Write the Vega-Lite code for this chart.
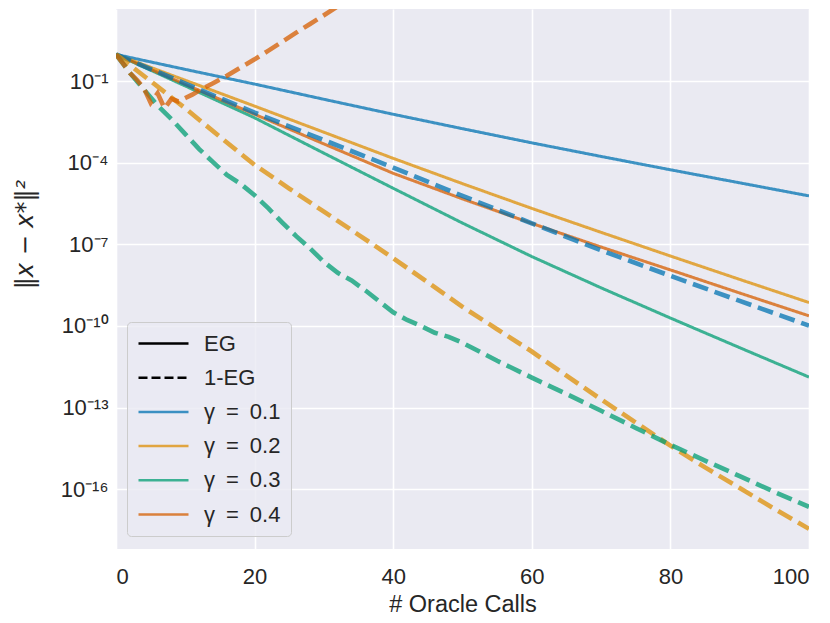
{
  "$schema": "https://vega.github.io/schema/vega-lite/v6.json",
  "autosize": {"type": "none"},
  "width": 693,
  "height": 540,
  "padding": {"left": 116, "top": 9, "right": 21, "bottom": 74},
  "background": "white",
  "data": {
    "values": [
      {"m": "EG", "g": "γ = 0.1", "x": 0, "y": 0.955},
      {"m": "EG", "g": "γ = 0.1", "x": 10, "y": 0.269},
      {"m": "EG", "g": "γ = 0.1", "x": 20, "y": 0.0776},
      {"m": "EG", "g": "γ = 0.1", "x": 30, "y": 0.0214},
      {"m": "EG", "g": "γ = 0.1", "x": 40, "y": 6.03e-3},
      {"m": "EG", "g": "γ = 0.1", "x": 50, "y": 1.778e-3},
      {"m": "EG", "g": "γ = 0.1", "x": 60, "y": 5.37e-4},
      {"m": "EG", "g": "γ = 0.1", "x": 70, "y": 1.698e-4},
      {"m": "EG", "g": "γ = 0.1", "x": 80, "y": 5.495e-5},
      {"m": "EG", "g": "γ = 0.1", "x": 90, "y": 1.82e-5},
      {"m": "EG", "g": "γ = 0.1", "x": 100, "y": 6.026e-6},

      {"m": "EG", "g": "γ = 0.2", "x": 0, "y": 0.955},
      {"m": "EG", "g": "γ = 0.2", "x": 10, "y": 0.1072},
      {"m": "EG", "g": "γ = 0.2", "x": 20, "y": 0.01202},
      {"m": "EG", "g": "γ = 0.2", "x": 30, "y": 1.318e-3},
      {"m": "EG", "g": "γ = 0.2", "x": 40, "y": 1.445e-4},
      {"m": "EG", "g": "γ = 0.2", "x": 50, "y": 1.698e-5},
      {"m": "EG", "g": "γ = 0.2", "x": 60, "y": 2.089e-6},
      {"m": "EG", "g": "γ = 0.2", "x": 70, "y": 2.754e-7},
      {"m": "EG", "g": "γ = 0.2", "x": 80, "y": 3.715e-8},
      {"m": "EG", "g": "γ = 0.2", "x": 90, "y": 5.129e-9},
      {"m": "EG", "g": "γ = 0.2", "x": 100, "y": 7.244e-10},

      {"m": "EG", "g": "γ = 0.3", "x": 0, "y": 0.955},
      {"m": "EG", "g": "γ = 0.3", "x": 10, "y": 0.06607},
      {"m": "EG", "g": "γ = 0.3", "x": 20, "y": 4.467e-3},
      {"m": "EG", "g": "γ = 0.3", "x": 30, "y": 2.239e-4},
      {"m": "EG", "g": "γ = 0.3", "x": 40, "y": 1.148e-5},
      {"m": "EG", "g": "γ = 0.3", "x": 50, "y": 6.026e-7},
      {"m": "EG", "g": "γ = 0.3", "x": 60, "y": 3.548e-8},
      {"m": "EG", "g": "γ = 0.3", "x": 70, "y": 2.512e-9},
      {"m": "EG", "g": "γ = 0.3", "x": 80, "y": 1.95e-10},
      {"m": "EG", "g": "γ = 0.3", "x": 90, "y": 1.585e-11},
      {"m": "EG", "g": "γ = 0.3", "x": 100, "y": 1.318e-12},

      {"m": "EG", "g": "γ = 0.4", "x": 0, "y": 0.955},
      {"m": "EG", "g": "γ = 0.4", "x": 10, "y": 0.07586},
      {"m": "EG", "g": "γ = 0.4", "x": 20, "y": 6.026e-3},
      {"m": "EG", "g": "γ = 0.4", "x": 30, "y": 4.898e-4},
      {"m": "EG", "g": "γ = 0.4", "x": 40, "y": 4.074e-5},
      {"m": "EG", "g": "γ = 0.4", "x": 50, "y": 4.677e-6},
      {"m": "EG", "g": "γ = 0.4", "x": 60, "y": 5.888e-7},
      {"m": "EG", "g": "γ = 0.4", "x": 70, "y": 7.943e-8},
      {"m": "EG", "g": "γ = 0.4", "x": 80, "y": 1.148e-8},
      {"m": "EG", "g": "γ = 0.4", "x": 90, "y": 1.622e-9},
      {"m": "EG", "g": "γ = 0.4", "x": 100, "y": 2.344e-10},

      {"m": "1-EG", "g": "γ = 0.1", "x": 0, "y": 0.955},
      {"m": "1-EG", "g": "γ = 0.1", "x": 10, "y": 0.08128},
      {"m": "1-EG", "g": "γ = 0.1", "x": 20, "y": 6.918e-3},
      {"m": "1-EG", "g": "γ = 0.1", "x": 30, "y": 6.761e-4},
      {"m": "1-EG", "g": "γ = 0.1", "x": 40, "y": 6.607e-5},
      {"m": "1-EG", "g": "γ = 0.1", "x": 50, "y": 6.026e-6},
      {"m": "1-EG", "g": "γ = 0.1", "x": 60, "y": 5.888e-7},
      {"m": "1-EG", "g": "γ = 0.1", "x": 70, "y": 6.026e-8},
      {"m": "1-EG", "g": "γ = 0.1", "x": 80, "y": 6.918e-9},
      {"m": "1-EG", "g": "γ = 0.1", "x": 90, "y": 8.318e-10},
      {"m": "1-EG", "g": "γ = 0.1", "x": 100, "y": 1.023e-10},

      {"m": "1-EG", "g": "γ = 0.2", "x": 0, "y": 0.955},
      {"m": "1-EG", "g": "γ = 0.2", "x": 5, "y": 0.1},
      {"m": "1-EG", "g": "γ = 0.2", "x": 10, "y": 0.01},
      {"m": "1-EG", "g": "γ = 0.2", "x": 15, "y": 8.913e-4},
      {"m": "1-EG", "g": "γ = 0.2", "x": 20, "y": 8.318e-5},
      {"m": "1-EG", "g": "γ = 0.2", "x": 25, "y": 1.122e-5},
      {"m": "1-EG", "g": "γ = 0.2", "x": 30, "y": 1.585e-6},
      {"m": "1-EG", "g": "γ = 0.2", "x": 35, "y": 2.239e-7},
      {"m": "1-EG", "g": "γ = 0.2", "x": 40, "y": 3.09e-8},
      {"m": "1-EG", "g": "γ = 0.2", "x": 45, "y": 3.981e-9},
      {"m": "1-EG", "g": "γ = 0.2", "x": 50, "y": 5.012e-10},
      {"m": "1-EG", "g": "γ = 0.2", "x": 55, "y": 7.586e-11},
      {"m": "1-EG", "g": "γ = 0.2", "x": 60, "y": 1.148e-11},
      {"m": "1-EG", "g": "γ = 0.2", "x": 65, "y": 1.479e-12},
      {"m": "1-EG", "g": "γ = 0.2", "x": 70, "y": 1.995e-13},
      {"m": "1-EG", "g": "γ = 0.2", "x": 75, "y": 2.818e-14},
      {"m": "1-EG", "g": "γ = 0.2", "x": 80, "y": 3.981e-15},
      {"m": "1-EG", "g": "γ = 0.2", "x": 85, "y": 6.31e-16},
      {"m": "1-EG", "g": "γ = 0.2", "x": 90, "y": 1.096e-16},
      {"m": "1-EG", "g": "γ = 0.2", "x": 95, "y": 1.905e-17},
      {"m": "1-EG", "g": "γ = 0.2", "x": 100, "y": 3.467e-18},

      {"m": "1-EG", "g": "γ = 0.3", "x": 0, "y": 0.955},
      {"m": "1-EG", "g": "γ = 0.3", "x": 2, "y": 0.1995},
      {"m": "1-EG", "g": "γ = 0.3", "x": 4, "y": 0.05012},
      {"m": "1-EG", "g": "γ = 0.3", "x": 6, "y": 0.01259},
      {"m": "1-EG", "g": "γ = 0.3", "x": 8, "y": 3.981e-3},
      {"m": "1-EG", "g": "γ = 0.3", "x": 10, "y": 1.122e-3},
      {"m": "1-EG", "g": "γ = 0.3", "x": 12, "y": 3.162e-4},
      {"m": "1-EG", "g": "γ = 0.3", "x": 14, "y": 1.047e-4},
      {"m": "1-EG", "g": "γ = 0.3", "x": 16, "y": 3.548e-5},
      {"m": "1-EG", "g": "γ = 0.3", "x": 18, "y": 1.66e-5},
      {"m": "1-EG", "g": "γ = 0.3", "x": 20, "y": 6.31e-6},
      {"m": "1-EG", "g": "γ = 0.3", "x": 22, "y": 2.089e-6},
      {"m": "1-EG", "g": "γ = 0.3", "x": 24, "y": 6.31e-7},
      {"m": "1-EG", "g": "γ = 0.3", "x": 26, "y": 1.995e-7},
      {"m": "1-EG", "g": "γ = 0.3", "x": 28, "y": 7.079e-8},
      {"m": "1-EG", "g": "γ = 0.3", "x": 30, "y": 2.239e-8},
      {"m": "1-EG", "g": "γ = 0.3", "x": 32, "y": 8.913e-9},
      {"m": "1-EG", "g": "γ = 0.3", "x": 34, "y": 4.677e-9},
      {"m": "1-EG", "g": "γ = 0.3", "x": 36, "y": 1.995e-9},
      {"m": "1-EG", "g": "γ = 0.3", "x": 38, "y": 7.943e-10},
      {"m": "1-EG", "g": "γ = 0.3", "x": 40, "y": 3.162e-10},
      {"m": "1-EG", "g": "γ = 0.3", "x": 42, "y": 1.66e-10},
      {"m": "1-EG", "g": "γ = 0.3", "x": 44, "y": 1e-10},
      {"m": "1-EG", "g": "γ = 0.3", "x": 46, "y": 5.623e-11},
      {"m": "1-EG", "g": "γ = 0.3", "x": 48, "y": 3.981e-11},
      {"m": "1-EG", "g": "γ = 0.3", "x": 50, "y": 2.399e-11},
      {"m": "1-EG", "g": "γ = 0.3", "x": 55, "y": 5.248e-12},
      {"m": "1-EG", "g": "γ = 0.3", "x": 60, "y": 1.259e-12},
      {"m": "1-EG", "g": "γ = 0.3", "x": 65, "y": 3.162e-13},
      {"m": "1-EG", "g": "γ = 0.3", "x": 70, "y": 7.586e-14},
      {"m": "1-EG", "g": "γ = 0.3", "x": 75, "y": 1.778e-14},
      {"m": "1-EG", "g": "γ = 0.3", "x": 80, "y": 4.266e-15},
      {"m": "1-EG", "g": "γ = 0.3", "x": 85, "y": 1.122e-15},
      {"m": "1-EG", "g": "γ = 0.3", "x": 90, "y": 3.02e-16},
      {"m": "1-EG", "g": "γ = 0.3", "x": 95, "y": 7.943e-17},
      {"m": "1-EG", "g": "γ = 0.3", "x": 100, "y": 2.239e-17},

      {"m": "1-EG", "g": "γ = 0.4", "x": 0, "y": 0.955},
      {"m": "1-EG", "g": "γ = 0.4", "x": 1, "y": 0.4467},
      {"m": "1-EG", "g": "γ = 0.4", "x": 2, "y": 0.1995},
      {"m": "1-EG", "g": "γ = 0.4", "x": 3, "y": 0.1122},
      {"m": "1-EG", "g": "γ = 0.4", "x": 4, "y": 0.05623},
      {"m": "1-EG", "g": "γ = 0.4", "x": 5, "y": 0.01585},
      {"m": "1-EG", "g": "γ = 0.4", "x": 6, "y": 0.03548},
      {"m": "1-EG", "g": "γ = 0.4", "x": 7, "y": 0.01},
      {"m": "1-EG", "g": "γ = 0.4", "x": 8, "y": 0.02239},
      {"m": "1-EG", "g": "γ = 0.4", "x": 9, "y": 0.01778},
      {"m": "1-EG", "g": "γ = 0.4", "x": 10, "y": 0.02399},
      {"m": "1-EG", "g": "γ = 0.4", "x": 11, "y": 0.03162},
      {"m": "1-EG", "g": "γ = 0.4", "x": 12, "y": 0.04467},
      {"m": "1-EG", "g": "γ = 0.4", "x": 14, "y": 0.08318},
      {"m": "1-EG", "g": "γ = 0.4", "x": 16, "y": 0.1585},
      {"m": "1-EG", "g": "γ = 0.4", "x": 18, "y": 0.3162},
      {"m": "1-EG", "g": "γ = 0.4", "x": 20, "y": 0.631},
      {"m": "1-EG", "g": "γ = 0.4", "x": 22, "y": 1.318},
      {"m": "1-EG", "g": "γ = 0.4", "x": 24, "y": 2.818},
      {"m": "1-EG", "g": "γ = 0.4", "x": 26, "y": 6.026},
      {"m": "1-EG", "g": "γ = 0.4", "x": 28, "y": 12.59},
      {"m": "1-EG", "g": "γ = 0.4", "x": 30, "y": 26.3},
      {"m": "1-EG", "g": "γ = 0.4", "x": 32, "y": 56.23}
    ]
  },
  "mark": {"type": "line", "clip": true, "opacity": 0.75},
  "encoding": {
    "x": {
      "field": "x",
      "type": "quantitative",
      "title": "# Oracle Calls",
      "scale": {"domain": [0, 100], "nice": false},
      "axis": {"values": [0, 20, 40, 60, 80, 100], "labelFontSize": 22, "labelPadding": 17, "titlePadding": 5}
    },
    "y": {
      "field": "y",
      "type": "quantitative",
      "title": "‖x − x*‖²",
      "scale": {"type": "log", "domain": [6.31e-19, 44.67], "nice": false},
      "axis": {
        "values": [1e-16, 1e-13, 1e-10, 1e-7, 1e-4, 1e-1],
        "labelExpr": "datum.value < 1e-15 ? '10⁻¹⁶' : datum.value < 1e-12 ? '10⁻¹³' : datum.value < 1e-9 ? '10⁻¹⁰' : datum.value < 1e-6 ? '10⁻⁷' : datum.value < 1e-3 ? '10⁻⁴' : '10⁻¹'",
        "labelFontSize": 22,
        "labelPadding": 8,
        "titleFont": "DejaVu Sans",
        "titleFontStyle": "italic",
        "titleFontSize": 24,
        "titleAngle": -90,
        "titleX": -91,
        "titleY": 225,
        "titleAlign": "center",
        "titleBaseline": "middle"
      }
    },
    "color": {
      "field": "g",
      "type": "nominal",
      "scale": {
        "domain": ["EG", "1-EG", "γ = 0.1", "γ = 0.2", "γ = 0.3", "γ = 0.4"],
        "range": ["#000000", "#000000", "#0173b2", "#de8f05", "#029e73", "#d55e00"]
      },
      "legend": {
        "title": null,
        "orient": "none",
        "legendX": 11,
        "legendY": 313,
        "symbolType": "M-2.5,0H2.5",
        "symbolSize": 400,
        "symbolOffset": 15,
        "symbolStrokeWidth": 2.5,
        "symbolDash": {"expr": "datum.value === '1-EG' ? [9, 4] : [1, 0]"},
        "symbolOpacity": {"expr": "datum.value === 'EG' || datum.value === '1-EG' ? 1 : 0.75"},
        "labelExpr": "replace(datum.label, / /g, '\u2002')",
        "labelOffset": 29,
        "labelFontSize": 22,
        "labelColor": "#262626",
        "rowPadding": 11.2,
        "padding": 10,
        "fillColor": "rgba(234,234,242,0.8)",
        "strokeColor": "#cccccc",
        "cornerRadius": 4
      }
    },
    "strokeDash": {
      "field": "m",
      "type": "nominal",
      "scale": {"domain": ["EG", "1-EG"], "range": [[1, 0], [16, 7]]},
      "legend": null
    },
    "strokeWidth": {
      "field": "m",
      "type": "nominal",
      "scale": {"domain": ["EG", "1-EG"], "range": [3, 4.6]},
      "legend": null
    }
  },
  "config": {
    "font": "Liberation Sans",
    "view": {"fill": "#EAEAF2", "stroke": null},
    "axis": {
      "domain": false,
      "ticks": false,
      "grid": true,
      "gridColor": "white",
      "gridWidth": 1.6,
      "gridOpacity": 1,
      "labelColor": "#262626",
      "titleFontSize": 23.5,
      "titleFontWeight": "normal",
      "titleColor": "#262626"
    }
  }
}
